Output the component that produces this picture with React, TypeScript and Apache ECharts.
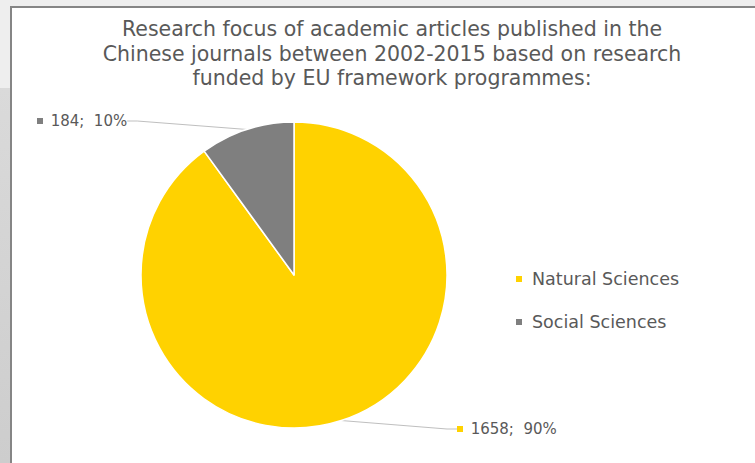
import React, { useEffect, useRef } from "react";
import * as echarts from "echarts";

const categories = ["Natural Sciences", "Social Sciences"];
const values = [1658, 184];
const colors = ["#FFD200", "#7F7F7F"];
const titleLines = [
  "Research focus of academic articles published in the",
  "Chinese journals between 2002-2015 based on research",
  "funded by EU framework programmes:",
];

export default function App() {
  const ref = useRef<HTMLDivElement>(null);
  useEffect(() => {
    if (!ref.current) return;
    const chart = echarts.init(ref.current, undefined, { renderer: "svg" });
    const total = values.reduce((a, b) => a + b, 0);
    const font = "DejaVu Sans, Verdana, sans-serif";
    chart.setOption({
      animation: false,
      backgroundColor: "#eeeeee",
      textStyle: { fontFamily: font },
      graphic: [
        {
          type: "rect",
          z: -10,
          silent: true,
          shape: { x: 0, y: 88, width: 11, height: 375 },
          style: {
            fill: new echarts.graphic.LinearGradient(0, 0, 0, 1, [
              { offset: 0, color: "#dadada" },
              { offset: 1, color: "#cdcdcd" },
            ]),
          },
        },
        {
          type: "rect",
          z: -9,
          silent: true,
          shape: { x: 11, y: 7, width: 760, height: 470 },
          style: { fill: "#ffffff", stroke: "#858585", lineWidth: 2 },
        },
      ],
      title: {
        text: titleLines.join("\n"),
        left: 387,
        top: 12,
        textAlign: "center",
        textStyle: {
          fontFamily: font,
          fontSize: 20.5,
          fontWeight: "normal",
          color: "#595959",
          lineHeight: 24.5,
        },
      },
      legend: {
        orient: "vertical",
        left: 509,
        top: 265,
        icon: "rect",
        itemWidth: 8,
        itemHeight: 8,
        itemGap: 25,
        data: categories,
        textStyle: {
          fontFamily: font,
          fontSize: 17.5,
          color: "#595959",
          padding: [0, 0, 0, 4],
        },
      },
      series: [
        {
          type: "pie",
          center: [294, 275],
          radius: 153,
          startAngle: 90,
          clockwise: true,
          itemStyle: { borderColor: "#ffffff", borderWidth: 1.5 },
          data: categories.map((c, i) => ({
            name: c,
            value: values[i],
            itemStyle: { color: colors[i] },
          })),
          label: {
            show: true,
            formatter: (p: any) =>
              `{s${p.dataIndex}|}  {t|${p.value};  ${Math.round((p.value / total) * 100)}%}`,
            rich: {
              s0: { width: 6, height: 6, backgroundColor: colors[0] },
              s1: { width: 6, height: 6, backgroundColor: colors[1] },
              t: { fontFamily: font, fontSize: 15, color: "#595959" },
            },
          },
          labelLine: {
            show: true,
            length: 10,
            length2: 10,
            lineStyle: { color: "#bfbfbf", width: 1 },
          },
          labelLayout: (p: any) =>
            p.dataIndex === 1
              ? { x: 37, y: 121, align: "left", verticalAlign: "middle" }
              : { x: 457, y: 429, align: "left", verticalAlign: "middle" },
        },
      ],
    });
    return () => chart.dispose();
  }, []);
  return (
    <div
      ref={ref}
      style={{ position: "fixed", left: 0, top: 0, width: 755, height: 463 }}
    />
  );
}
